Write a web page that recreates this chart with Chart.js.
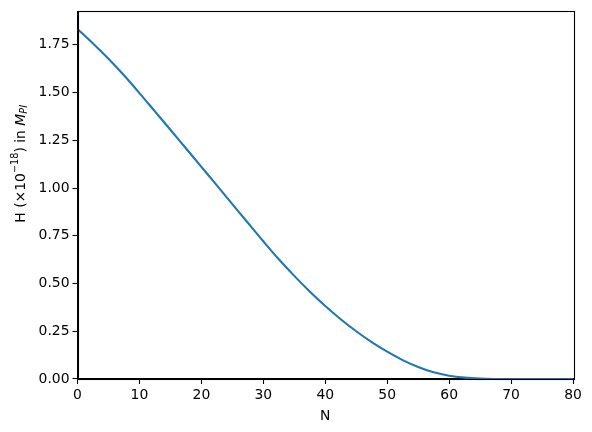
<!DOCTYPE html>
<html>
<head>
<meta charset="utf-8">
<script src="https://cdn.jsdelivr.net/npm/chart.js@4"></script>
<style>
  html, body { margin: 0; padding: 0; background: #fff; }
  #wrap { width: 592px; height: 432px; }
</style>
</head>
<body>
<div id="wrap"><canvas id="c" width="592" height="432"></canvas></div>
<script>
// Data
const nValues = [0, 2.5, 5, 7.5, 10, 12.5, 15, 17.5, 20, 22.5, 25, 27.5, 30, 32.5, 35, 37.5, 40, 42.5, 45, 47.5, 50, 52.5, 55, 57.5, 60, 62.5, 65, 67.5, 70, 75, 80];
const hValues = [1.833, 1.757, 1.677, 1.590, 1.497, 1.401, 1.305, 1.208, 1.111, 1.014, 0.916, 0.818, 0.721, 0.627, 0.540, 0.458, 0.382, 0.313, 0.250, 0.193, 0.143, 0.099, 0.063, 0.035, 0.017, 0.007, 0.002, 0.0003, 0.0, 0.0, 0.0];
const xTicks = [0, 10, 20, 30, 40, 50, 60, 70, 80];
const yTicks = [0, 0.25, 0.5, 0.75, 1.0, 1.25, 1.5, 1.75];
const yTickLabels = ["0.00", "0.25", "0.50", "0.75", "1.00", "1.25", "1.50", "1.75"];
const xTitle = "N";

const FONT = "DejaVu Sans";
const FS = 13.9;

const frame = {
  id: 'frame',
  afterDatasetsDraw(chart) {
    const a = chart.chartArea, ctx = chart.ctx;
    ctx.save();
    ctx.strokeStyle = '#000';
    ctx.lineWidth = 1.1;
    ctx.strokeRect(Math.round(a.left) + 0.5, Math.round(a.top) + 0.5,
                   Math.round(a.right - a.left), Math.round(a.bottom - a.top));
    ctx.restore();
  }
};

const yLabel = {
  id: 'yLabel',
  afterDraw(chart) {
    const a = chart.chartArea, ctx = chart.ctx;
    const parts = [
      { t: "H (×10", f: `${FS}px "${FONT}"`, dy: 0 },
      { t: "−18", f: `${FS * 0.7}px "${FONT}"`, dy: -FS * 0.4 },
      { t: ") in ", f: `${FS}px "${FONT}"`, dy: 0 },
      { t: "M", f: `oblique ${FS}px "${FONT}"`, dy: 0 },
      { t: "Pl", f: `oblique ${FS * 0.7}px "${FONT}"`, dy: FS * 0.22 }
    ];
    ctx.save();
    let total = 0;
    parts.forEach(p => { ctx.font = p.f; p.w = ctx.measureText(p.t).width; total += p.w; });
    const cx = 21, cy = a.top + (a.bottom - a.top) * 0.415;
    ctx.translate(cx, cy);
    ctx.rotate(-Math.PI / 2);
    ctx.fillStyle = '#000';
    ctx.textBaseline = 'middle';
    ctx.textAlign = 'left';
    let x = -total / 2;
    parts.forEach(p => { ctx.font = p.f; ctx.fillText(p.t, x, p.dy); x += p.w; });
    ctx.restore();
  }
};

new Chart(document.getElementById('c'), {
  type: 'line',
  data: {
    datasets: [{
      data: nValues.map((n, i) => ({ x: n, y: hValues[i] })),
      borderColor: '#1f77b4',
      borderWidth: 2.1,
      pointRadius: 0,
      fill: false,
      cubicInterpolationMode: 'monotone'
    }]
  },
  options: {
    responsive: false,
    animation: false,
    devicePixelRatio: 1,
    layout: { padding: { top: 9, right: 19, left: 0, bottom: 0 } },
    plugins: { legend: { display: false }, tooltip: { enabled: false } },
    scales: {
      x: {
        type: 'linear',
        min: 0, max: 80,
        afterBuildTicks(s) { s.ticks = xTicks.map(v => ({ value: v })); },
        afterFit(s) { s.height = 53; },
        ticks: { color: '#000', font: { family: FONT, size: FS }, padding: 3, maxRotation: 0 },
        grid: { drawOnChartArea: false, drawTicks: true, tickLength: 5, tickColor: '#000', tickWidth: 1.1 },
        border: { color: '#000', width: 1.1 },
        title: { display: true, text: xTitle, color: '#000', font: { family: FONT, size: FS }, padding: { top: 2, bottom: 7 } }
      },
      y: {
        type: 'linear',
        min: 0, max: 1.925,
        afterBuildTicks(s) { s.ticks = yTicks.map(v => ({ value: v })); },
        afterFit(s) { s.width = 77.5; },
        ticks: {
          color: '#000', font: { family: FONT, size: FS }, padding: 3,
          callback: (v) => { const i = yTicks.findIndex(t => Math.abs(t - v) < 1e-9); return i >= 0 ? yTickLabels[i] : ''; }
        },
        grid: { drawOnChartArea: false, drawTicks: true, tickLength: 5, tickColor: '#000', tickWidth: 1.1 },
        border: { color: '#000', width: 1.1 }
      }
    }
  },
  plugins: [frame, yLabel]
});
</script>
</body>
</html>
